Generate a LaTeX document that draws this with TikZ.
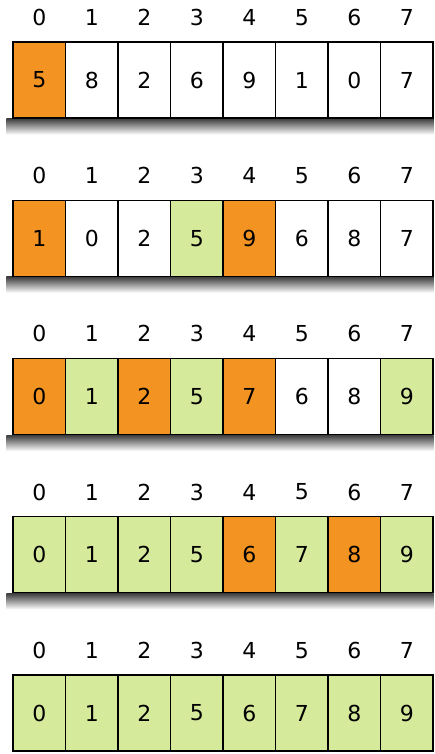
\documentclass[tikz,border=0pt]{standalone}
\usepackage{fontspec}
\setmainfont{DejaVu Sans}
\usepackage{tikz}
\usetikzlibrary{
  positioning,
  calc,
  backgrounds,
}
\definecolor{pivotOrange}{HTML}{F39322}
\definecolor{doneGreen}{HTML}{D6EA9C}
\tikzset{
  cellBox/.style={
    rectangle, draw=black, line width=1.4pt, fill=#1,
    minimum width=52.5pt, minimum height=76pt, inner sep=0pt,
    font=\fontsize{22}{26}\selectfont,
  },
  idxLabel/.style={
    inner sep=0pt, font=\fontsize{22}{26}\selectfont,
  },
  rowShadow/.style={
    top color=black!75, middle color=black!30, bottom color=white, draw=none,
  },
}

\begin{document}
\begin{tikzpicture}[x=1pt, y=-1pt]

\useasboundingbox (0,0) rectangle (434,754);

% row 1
\foreach \v/\c [count=\i from 0] in {5/pivotOrange,8/white,2/white,6/white,
                                     9/white,1/white,0/white,7/white} {
  \node[cellBox=\c] (a\i) at (39.25+52.5*\i, 80) {\v};
  \node[idxLabel] (ia\i) at ([yshift=24pt]a\i.north) {\i};
}

% row 2
\foreach \v/\c [count=\i from 0] in {1/pivotOrange,0/white,2/white,5/doneGreen,
                                     9/pivotOrange,6/white,8/white,7/white} {
  \node[cellBox=\c] (b\i) at (39.25+52.5*\i, 238.25) {\v};
  \node[idxLabel] (ib\i) at ([yshift=24pt]b\i.north) {\i};
}

% row 3
\foreach \v/\c [count=\i from 0] in {0/pivotOrange,1/doneGreen,2/pivotOrange,5/doneGreen,
                                     7/pivotOrange,6/white,8/white,9/doneGreen} {
  \node[cellBox=\c] (c\i) at (39.25+52.5*\i, 396.5) {\v};
  \node[idxLabel] (ic\i) at ([yshift=24pt]c\i.north) {\i};
}

% row 4
\foreach \v/\c [count=\i from 0] in {0/doneGreen,1/doneGreen,2/doneGreen,5/doneGreen,
                                     6/pivotOrange,7/doneGreen,8/pivotOrange,9/doneGreen} {
  \node[cellBox=\c] (d\i) at (39.25+52.5*\i, 554.75) {\v};
  \node[idxLabel] (id\i) at ([yshift=24pt]d\i.north) {\i};
}

% row 5 (sorted)
\foreach \v [count=\i from 0] in {0,1,2,5,6,7,8,9} {
  \node[cellBox=doneGreen] (e\i) at (39.25+52.5*\i, 713) {\v};
  \node[idxLabel] (ie\i) at ([yshift=24pt]e\i.north) {\i};
}

% shadows under the rows
\begin{scope}[on background layer]
  \fill[white] (0,0) rectangle (434,754);
  \foreach \r in {a,b,c,d} {
    \shade[rowShadow]
      ($(\r0.south west)+(-6pt,0)$) rectangle ($(\r7.south east)+(0,-16pt)$);
  }
\end{scope}

\end{tikzpicture}
\end{document}
